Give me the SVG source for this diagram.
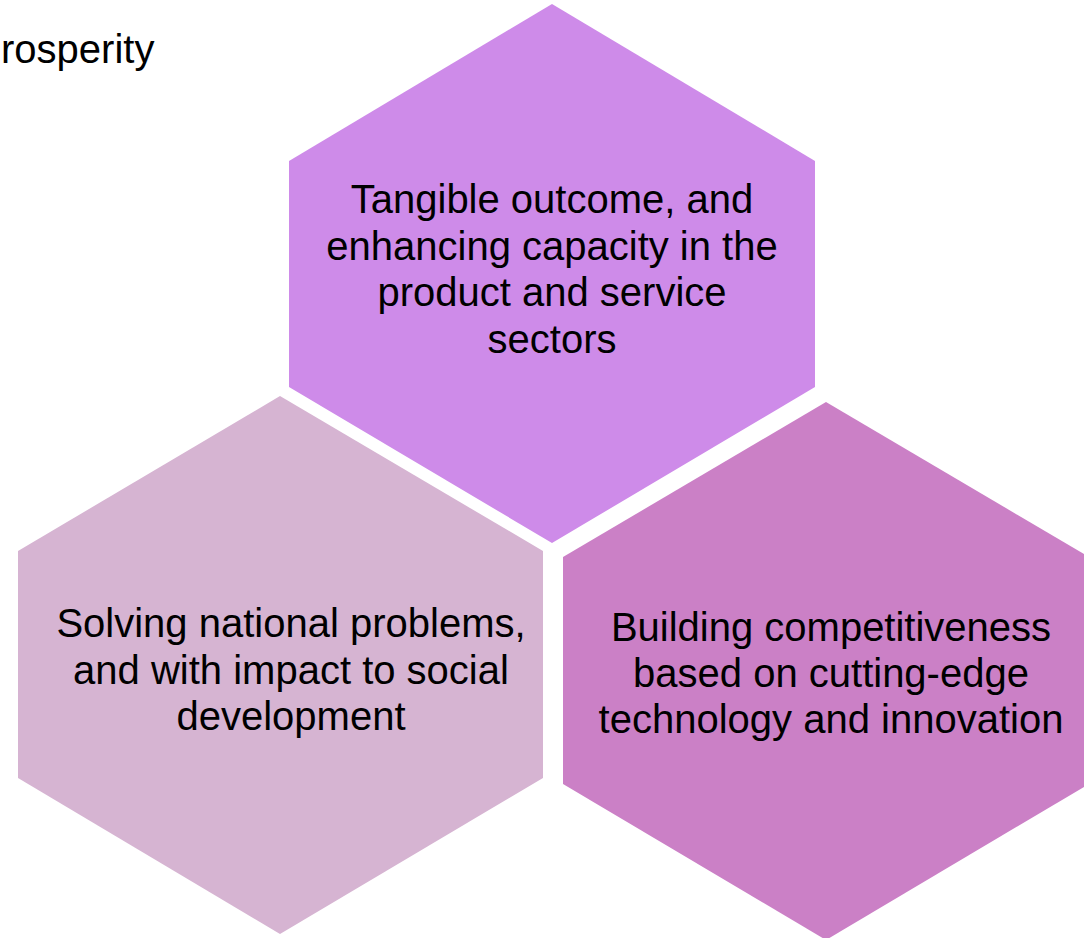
<svg xmlns="http://www.w3.org/2000/svg" width="1084" height="938" viewBox="0 0 1084 938">
<style>
.lbl{font-family:"Liberation Sans",Arial,sans-serif;font-size:40px;fill:#000;text-anchor:middle}
.plain{font-family:"Liberation Sans",Arial,sans-serif;font-size:40px;fill:#000}
</style>
<rect width="1084" height="938" fill="#fff"/>
<text class="plain" x="1" y="63">rosperity</text>
<g id="hex-top">
<polygon points="552,4 815,161 815,387 552,543 289,387 289,161" fill="#CE8BE9"/>
<text class="lbl" x="552" y="213">Tangible outcome, and</text>
<text class="lbl" x="552" y="260">enhancing capacity in the</text>
<text class="lbl" x="552" y="306">product and service</text>
<text class="lbl" x="552" y="353">sectors</text>
</g>
<g id="hex-left">
<polygon points="280,396 543,551 543,778 280,934 18,778 18,551" fill="#D6B4D2"/>
<text class="lbl" x="291" y="637">Solving national problems,</text>
<text class="lbl" x="291" y="684">and with impact to social</text>
<text class="lbl" x="291" y="730">development</text>
</g>
<g id="hex-right">
<polygon points="826,402 1089,557 1089,784 826,940 563,784 563,557" fill="#CB80C6"/>
<text class="lbl" x="831" y="641">Building competitiveness</text>
<text class="lbl" x="831" y="687">based on cutting-edge</text>
<text class="lbl" x="831" y="733">technology and innovation</text>
</g>
<g id="connectors"></g>
</svg>
